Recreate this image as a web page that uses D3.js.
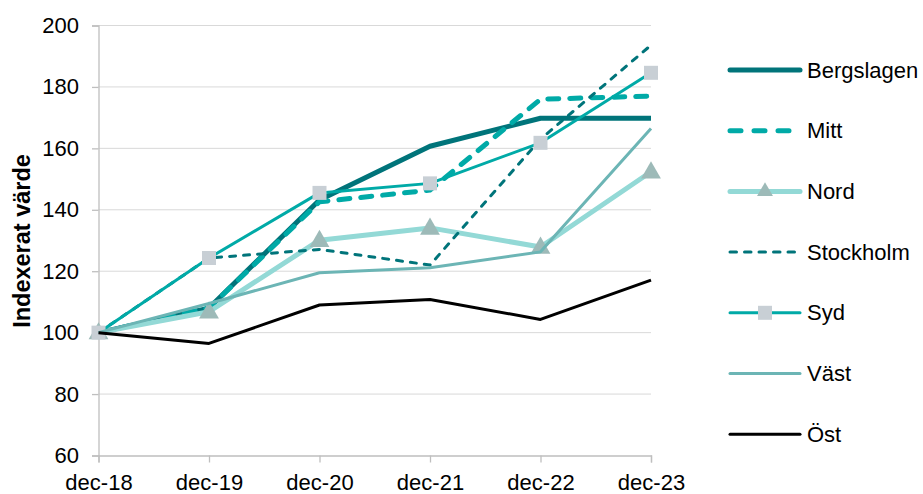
<!DOCTYPE html>
<html>
<head>
<meta charset="utf-8">
<script src="https://cdn.jsdelivr.net/npm/d3@7"></script>
<style>
  body { margin: 0; background: #fff; }
  text { font-family: "Liberation Sans", Arial, sans-serif; }
</style>
</head>
<body>
<div id="chart-container"></div>
<script>
// Data
const periods = ["dec-18", "dec-19", "dec-20", "dec-21", "dec-22", "dec-23"];
const yTicks = [60, 80, 100, 120, 140, 160, 180, 200];

const bergslagen = [100, 108, 143.2, 160.7, 169.8, 169.8];
const mitt       = [100, 108, 142.6, 146.4, 176, 177];
const nord       = [100, 106.8, 130.1, 134.1, 127.9, 152.4];
const stockholm  = [100, 124.3, 127.1, 122, 163, 193.6];
const syd        = [100, 124.3, 145.5, 148.6, 161.8, 184.6];
const vast       = [100, 109.5, 119.5, 121.1, 126.3, 166.5];
const ost        = [100, 96.5, 109, 110.8, 104.3, 117.1];

const seriesNames = ["Bergslagen", "Mitt", "Nord", "Stockholm", "Syd", "Väst", "Öst"];
const seriesValues = [bergslagen, mitt, nord, stockholm, syd, vast, ost];

// styling per series
const styles = [
  { color: "#00747A", width: 5, dash: null, legendDash: null, marker: null },
  { color: "#00AAA7", width: 5, dash: "11,11", legendDash: "11,13", marker: null },
  { color: "#93D9D6", width: 5, dash: null, legendDash: null, marker: "triangle" },
  { color: "#00747A", width: 3, dash: "6,8", legendDash: "6.5,8", marker: null },
  { color: "#00AAA7", width: 3, dash: null, legendDash: null, marker: "square" },
  { color: "#6CB5B5", width: 3, dash: null, legendDash: null, marker: null },
  { color: "#000000", width: 3, dash: null, legendDash: null, marker: null }
];

const width = 923, height = 494;
const margin = { top: 25.5, right: 272, bottom: 38.5, left: 98.5 };
const innerW = width - margin.left - margin.right;
const innerH = height - margin.top - margin.bottom;

const svg = d3.select("#chart-container")
  .append("svg")
  .attr("width", width)
  .attr("height", height);

const g = svg.append("g")
  .attr("transform", `translate(${margin.left},${margin.top})`);

const x = d3.scalePoint()
  .domain(periods)
  .range([0, innerW]);

const y = d3.scaleLinear()
  .domain([60, 200])
  .range([innerH, 0]);

// gridlines
g.append("g")
  .selectAll("line")
  .data(yTicks.filter(d => d > 60))
  .enter().append("line")
  .attr("x1", 0)
  .attr("x2", innerW)
  .attr("y1", d => y(d))
  .attr("y2", d => y(d))
  .attr("stroke", "#D9D9D9")
  .attr("stroke-width", 1);

// Y axis
const yAxis = g.append("g")
  .call(d3.axisLeft(y).tickValues(yTicks).tickSize(6.5).tickPadding(13));
yAxis.select(".domain").attr("stroke", "#BFBFBF").attr("stroke-width", 1.3);
yAxis.selectAll(".tick line").attr("stroke", "#BFBFBF").attr("stroke-width", 1.3);
yAxis.selectAll(".tick text")
  .style("font-size", "22px")
  .attr("fill", "#000");

// X axis
const xAxis = g.append("g")
  .attr("transform", `translate(0,${innerH})`)
  .call(d3.axisBottom(x).tickSize(7).tickPadding(12));
xAxis.select(".domain").attr("stroke", "#BFBFBF").attr("stroke-width", 1.3);
xAxis.selectAll(".tick line").attr("stroke", "#BFBFBF").attr("stroke-width", 1.3);
xAxis.selectAll(".tick text")
  .style("font-size", "22px")
  .attr("fill", "#000");

// Y axis title
svg.append("text")
  .attr("transform", "rotate(-90)")
  .attr("x", -241)
  .attr("y", 30)
  .attr("text-anchor", "middle")
  .style("font-size", "23.5px")
  .style("font-weight", "bold")
  .text("Indexerat värde");

const line = d3.line()
  .x((d, i) => x(periods[i]))
  .y(d => y(d));

const triangle = d3.symbol().type(d3.symbolTriangle).size(170);

seriesNames.forEach((name, si) => {
  const st = styles[si];
  const vals = seriesValues[si];
  g.append("path")
    .datum(vals)
    .attr("fill", "none")
    .attr("stroke", st.color)
    .attr("stroke-width", st.width)
    .attr("stroke-dasharray", st.dash)
    .attr("stroke-linejoin", "round")
    .attr("stroke-linecap", st.dash ? "round" : "butt")
    .attr("d", line);

  if (st.marker === "triangle") {
    g.selectAll(".tri" + si)
      .data(vals)
      .enter().append("path")
      .attr("d", triangle)
      .attr("transform", (d, i) => `translate(${x(periods[i])},${y(d) + 1})`)
      .attr("fill", "#9DBAB8");
  }
  if (st.marker === "square") {
    g.selectAll(".sq" + si)
      .data(vals)
      .enter().append("rect")
      .attr("x", (d, i) => x(periods[i]) - 7)
      .attr("y", d => y(d) - 7)
      .attr("width", 14)
      .attr("height", 14)
      .attr("fill", "#C8CFD5");
  }
});

// Legend
const legend = svg.append("g")
  .attr("transform", "translate(729,70)");

seriesNames.forEach((name, si) => {
  const st = styles[si];
  const row = legend.append("g")
    .attr("transform", `translate(0,${si * 60.7})`);
  row.append("line")
    .attr("x1", 1)
    .attr("x2", 71)
    .attr("y1", 0)
    .attr("y2", 0)
    .attr("stroke", st.color)
    .attr("stroke-width", st.width)
    .attr("stroke-linecap", "round")
    .attr("stroke-dasharray", st.legendDash);
  if (st.marker === "triangle") {
    row.append("path")
      .attr("d", d3.symbol().type(d3.symbolTriangle).size(110))
      .attr("transform", "translate(36,0)")
      .attr("fill", "#9DBAB8");
  }
  if (st.marker === "square") {
    row.append("rect")
      .attr("x", 29)
      .attr("y", -7)
      .attr("width", 14)
      .attr("height", 14)
      .attr("fill", "#C8CFD5");
  }
  row.append("text")
    .attr("x", 78)
    .attr("y", 7.5)
    .style("font-size", "22px")
    .attr("fill", "#000")
    .text(name);
});
</script>
</body>
</html>
